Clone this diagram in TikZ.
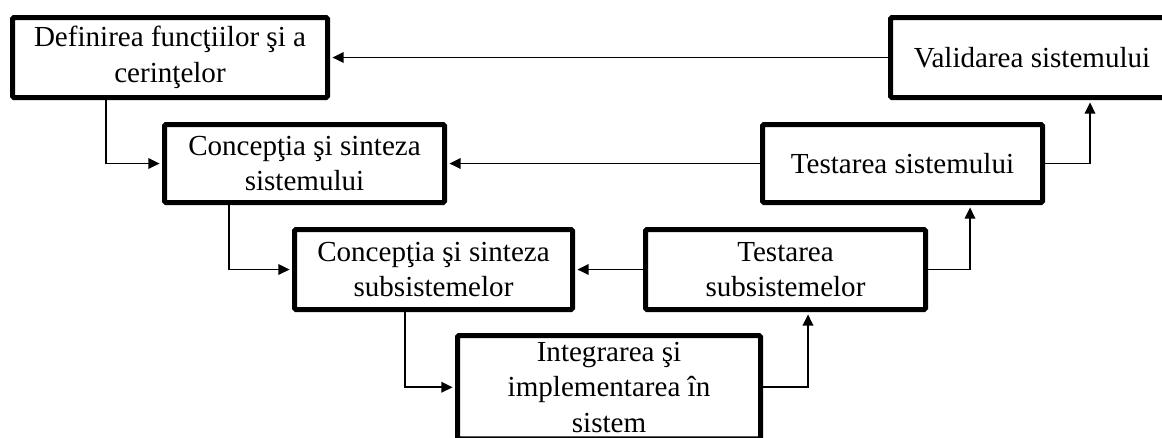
\documentclass[tikz,border=0pt]{standalone}
\usepackage{fontspec}
\setmainfont{Liberation Serif}
\usetikzlibrary{arrows.meta}
\begin{document}
\begin{tikzpicture}[x=0.75pt,y=-0.75pt,
  box/.style={draw,line width=3.75pt,rounded corners=1pt,inner sep=0pt,
    align=center,font=\fontsize{21.8}{26.5}\selectfont},
  arr/.style={line width=1.3pt,-{Triangle[length=8.5pt,width=8pt]},shorten >=1.8pt}]
\useasboundingbox (0,0) rectangle (1162,437);
\clip (0,0) rectangle (1162,437);

% stages of the V model
\node[box,minimum width=236.25pt,minimum height=60pt] (def) at (170,57.5) {Definirea funcţiilor şi a\\cerinţelor};
\node[box,minimum width=212.25pt,minimum height=60pt] (val) at (1032,57.5) {Validarea sistemului};
\node[box,minimum width=210pt,minimum height=58.5pt] (csys) at (304.5,163.5) {Concepţia şi sinteza\\sistemului};
\node[box,minimum width=210pt,minimum height=58.5pt] (tsys) at (902.5,163.5) {Testarea sistemului};
\node[box,minimum width=208.5pt,minimum height=60pt] (csub) at (433.5,269.5) {Concepţia şi sinteza\\subsistemelor};
\node[box,minimum width=210pt,minimum height=60pt] (tsub) at (785.5,269.5) {Testarea\\subsistemelor};
\node[box,minimum width=227.25pt,minimum height=77.6pt] (integ) at (609,387.25) {Integrarea şi\\implementarea în\\sistem};

% elbow positions of the connectors
\coordinate (k1) at (106,0);
\coordinate (k2) at (1090,0);
\coordinate (k3) at (229,0);
\coordinate (k4) at (970,0);
\coordinate (k5) at (405,0);
\coordinate (k6) at (808,0);

% descending branch
\draw[arr] (def.south -| k1) |- (csys.west);
\draw[arr] (csys.south -| k3) |- (csub.west);
\draw[arr] (csub.south -| k5) |- (integ.west);

% ascending branch
\draw[arr] (integ.east) -| (k6 |- tsub.south);
\draw[arr] (tsub.east) -| (k4 |- tsys.south);
\draw[arr] (tsys.east) -| (k2 |- val.south);

% feedback links
\draw[arr] (val.west) -- (def.east);
\draw[arr] (tsys.west) -- (csys.east);
\draw[arr] (tsub.west) -- (csub.east);
\end{tikzpicture}
\end{document}
